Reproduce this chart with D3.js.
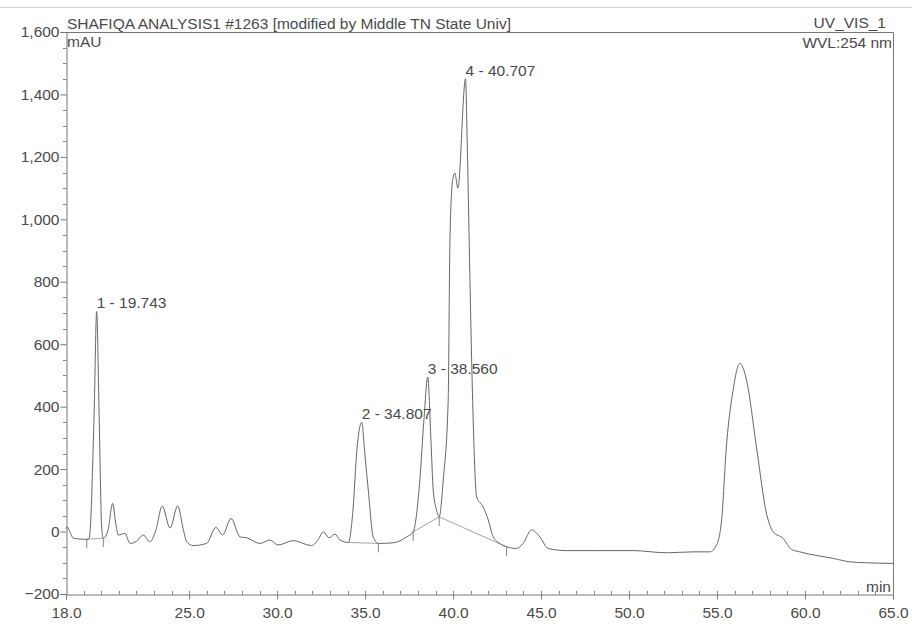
<!DOCTYPE html>
<html>
<head>
<meta charset="utf-8">
<script src="https://cdn.jsdelivr.net/npm/d3@7"></script>
<style>
  html, body { margin: 0; padding: 0; background: #ffffff; }
  svg { display: block; font-family: "Liberation Sans", Arial, sans-serif; }
</style>
</head>
<body>
<svg id="chart" width="912" height="626"></svg>
<script>
// ---- data ----
const titleText = "SHAFIQA ANALYSIS1 #1263 [modified by Middle TN State Univ]";
const channelText = "UV_VIS_1";
const wavelengthText = "WVL:254 nm";
const yUnit = "mAU";
const xUnit = "min";

const xTicks = [18.0, 25.0, 30.0, 35.0, 40.0, 45.0, 50.0, 55.0, 60.0, 65.0];
const yTicks = [-200, 0, 200, 400, 600, 800, 1000, 1200, 1400, 1600];

// retention time (min)
const times = [
  18.00, 18.07, 18.23, 18.41, 18.80, 19.18, 19.32, 19.60, 19.743, 19.88, 20.03, 20.12,
  20.39, 20.65, 20.84, 20.97, 21.35, 21.64, 22.03, 22.39, 22.77, 23.11, 23.47, 23.91,
  24.35, 24.65, 24.86, 25.23, 25.99, 26.52, 26.90, 27.38, 27.89, 28.27, 29.02, 29.59,
  30.05, 30.91, 31.96, 32.34, 32.62, 32.96, 33.28, 33.57, 34.04, 34.31, 34.53, 34.807,
  34.99, 35.18, 35.46, 35.75, 36.60, 37.36, 37.73, 38.11, 38.34, 38.56, 38.74, 38.87,
  39.06, 39.21, 39.44, 39.72, 39.82, 39.97, 40.10, 40.27, 40.707, 40.80, 40.95, 41.11,
  41.34, 41.71, 42.00, 42.28, 42.66, 43.04, 43.61, 43.98, 44.46, 44.93, 45.40, 46.45,
  48.34, 50.23, 52.13, 53.64, 54.59, 54.97, 55.26, 55.53, 55.91, 56.30, 56.68, 57.24,
  57.81, 58.19, 58.76, 59.23, 59.70, 61.60, 62.55, 63.49, 65.00
];
// absorbance (mAU)
const signal = [
  8, 15, -2, -21, -24, -25, -21, 380, 705, 380, 11, -21,
  5, 90, 21, -11, -6, -38, -30, -11, -33, 5, 82, 11,
  82, 11, -33, -45, -38, 13, -11, 42, -17, -20, -38, -27,
  -43, -29, -45, -25, -1, -20, -8, -27, -35, 69, 260, 350,
  245, 133, -17, -38, -36, -17, -1, 165, 356, 495, 292, 133,
  69, 47, 165, 420, 932, 1124, 1148, 1100, 1450, 1252, 826, 420,
  111, 79, 37, -17, -38, -49, -54, -38, 5, -17, -54, -61,
  -61, -61, -68, -65, -65, -43, 37, 271, 452, 539, 484, 271,
  58, -1, -22, -57, -65, -86, -97, -100, -102
];

// labelled peaks
const peakNames = ["1 - 19.743", "2 - 34.807", "3 - 38.560", "4 - 40.707"];
const peakTimes = [19.743, 34.807, 38.560, 40.707];
const peakHeights = [705, 350, 495, 1450];

// integration baselines
const baseStartT = [19.18, 34.04, 37.73, 39.21];
const baseStartV = [-25, -35, -1, 47];
const baseEndT = [20.12, 35.75, 39.21, 43.04];
const baseEndV = [-21, -38, 47, -49];

// baseline delimiter marks
const markT = [19.18, 20.12, 35.75, 37.73, 39.21, 43.04];
const markV = [-25, -21, -38, -1, 47, -49];

// ---- drawing ----
(function () {
  const svg = d3.select("#chart");
  const pL = 66, pR = 893, pT = 32, pB = 594;
  const x = d3.scaleLinear().domain([18, 65]).range([pL, pR]);
  const y = d3.scaleLinear().domain([-200, 1600]).range([pB, pT]);

  const ink = "#666";
  const textInk = "#4a4a4a";
  const fs = 15.5;
  const ff = "Liberation Sans, Arial, sans-serif";

  // faint scan line at the very top
  svg.append("line").attr("x1", 0).attr("x2", 912).attr("y1", 7.5).attr("y2", 7.5)
    .attr("stroke", "#d4d4d4").attr("stroke-width", 1);

  // frame (top and right)
  svg.append("path")
    .attr("d", `M${pL},${pT + 0.5}H${pR + 0.5}V${pB}`)
    .attr("fill", "none").attr("stroke", "#777").attr("stroke-width", 1);

  // y axis
  const yAxis = d3.axisLeft(y).tickValues(yTicks).tickSize(6).tickPadding(1)
    .tickFormat(d3.format(",.0f"));
  const gy = svg.append("g").attr("transform", `translate(${pL + 0.5},0)`).call(yAxis);
  gy.select(".domain").attr("stroke", "#777");
  gy.selectAll(".tick line").attr("stroke", "#777");
  gy.selectAll(".tick text").attr("fill", textInk).attr("font-size", fs)
    .attr("font-family", ff);
  const yMinor = d3.range(-150, 1600, 50).filter(v => v % 200 !== 0);
  svg.append("g").selectAll("line").data(yMinor).join("line")
    .attr("x1", pL - 3).attr("x2", pL + 0.5)
    .attr("y1", d => Math.round(y(d)) + 0.5).attr("y2", d => Math.round(y(d)) + 0.5)
    .attr("stroke", "#888");

  // x axis
  const xAxis = d3.axisBottom(x).tickValues(xTicks).tickSize(5).tickPadding(7.5)
    .tickFormat(d3.format(".1f"));
  const gx = svg.append("g").attr("transform", `translate(0,${pB + 0.5})`).call(xAxis);
  gx.select(".domain").attr("stroke", "#777");
  gx.selectAll(".tick line").attr("stroke", "#777");
  gx.selectAll(".tick text").attr("fill", textInk).attr("font-size", fs)
    .attr("font-family", ff);
  const xMinor = d3.range(19, 65, 1);
  svg.append("g").selectAll("line").data(xMinor).join("line")
    .attr("x1", d => Math.round(x(d)) + 0.5).attr("x2", d => Math.round(x(d)) + 0.5)
    .attr("y1", pB - 3).attr("y2", pB + 0.5)
    .attr("stroke", "#888");

  // baselines
  for (let i = 0; i < baseStartT.length; i++) {
    svg.append("line")
      .attr("x1", x(baseStartT[i])).attr("y1", y(baseStartV[i]))
      .attr("x2", x(baseEndT[i])).attr("y2", y(baseEndV[i]))
      .attr("stroke", "#999").attr("stroke-width", 0.9);
  }
  svg.append("g").selectAll("line").data(markT).join("line")
    .attr("x1", d => x(d)).attr("x2", d => x(d))
    .attr("y1", (d, i) => y(markV[i]))
    .attr("y2", (d, i) => y(markV[i]) + 9)
    .attr("stroke", "#777").attr("stroke-width", 0.9);

  // trace
  const pts = times.map((t, i) => [t, signal[i]]);
  const line = d3.line().x(d => x(d[0])).y(d => y(d[1])).curve(d3.curveMonotoneX);
  svg.append("path").datum(pts).attr("d", line)
    .attr("fill", "none").attr("stroke", ink).attr("stroke-width", 1);

  // peak labels
  svg.append("g").selectAll("text").data(peakNames).join("text")
    .attr("x", (d, i) => x(peakTimes[i]))
    .attr("y", (d, i) => y(peakHeights[i]) - 3)
    .attr("fill", textInk).attr("font-size", fs).attr("font-family", ff)
    .text(d => d);

  // header texts
  svg.append("text").attr("x", pL + 1).attr("y", 29).attr("fill", textInk)
    .attr("font-size", fs).attr("font-family", ff).text(titleText);
  svg.append("text").attr("x", 886).attr("y", 27.5).attr("text-anchor", "end")
    .attr("fill", textInk).attr("font-size", fs).attr("font-family", ff).text(channelText);
  svg.append("text").attr("x", 892).attr("y", 48).attr("text-anchor", "end")
    .attr("fill", textInk).attr("font-size", fs).attr("font-family", ff).text(wavelengthText);
  svg.append("text").attr("x", pL + 1).attr("y", 47).attr("fill", textInk)
    .attr("font-size", fs).attr("font-family", ff).text(yUnit);
  svg.append("text").attr("x", 891).attr("y", 592).attr("text-anchor", "end")
    .attr("fill", textInk).attr("font-size", fs).attr("font-family", ff).text(xUnit);
})();
</script>
</body>
</html>
